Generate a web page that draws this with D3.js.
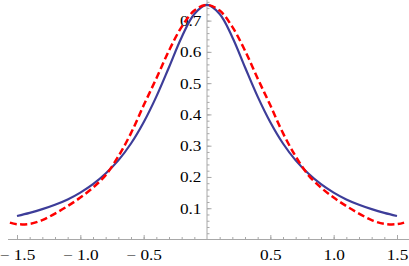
<!DOCTYPE html>
<html>
<head>
<meta charset="utf-8">
<script src="https://cdn.jsdelivr.net/npm/d3@7"></script>
<style>
  html, body { margin: 0; padding: 0; background: #fff; }
  svg { display: block; }
</style>
</head>
<body>
<svg id="chart"></svg>
<script>
// values
let blueX = [-1.5,-1.4,-1.3,-1.2,-1.1,-1.0,-0.9,-0.8,-0.7,-0.6,-0.5,-0.4,-0.3,-0.2,-0.1,0,
             0.1,0.2,0.3,0.4,0.5,0.6,0.7,0.8,0.9,1.0,1.1,1.2,1.3,1.4,1.5];
let blueY = [0.075,0.085,0.097,0.111,0.128,0.150,0.177,0.211,0.253,0.307,0.375,0.457,0.551,0.647,0.721,0.750,
             0.721,0.647,0.551,0.457,0.375,0.307,0.253,0.211,0.177,0.150,0.128,0.111,0.097,0.085,0.075];

let redX = [-1.556,-1.5,-1.4,-1.3,-1.2,-1.1,-1.0,-0.9,-0.8,-0.7,-0.6,-0.5,-0.4,-0.3,-0.2,-0.1,0,
            0.1,0.2,0.3,0.4,0.5,0.6,0.7,0.8,0.9,1.0,1.1,1.2,1.3,1.4,1.5,1.556];
let redY = [0.054,0.049,0.050,0.062,0.083,0.107,0.134,0.166,0.206,0.266,0.340,0.429,0.515,0.604,0.680,0.732,0.750,
            0.732,0.680,0.604,0.515,0.429,0.340,0.266,0.206,0.166,0.134,0.107,0.083,0.062,0.050,0.049,0.054];

let xMajor = [-1.5,-1.0,-0.5,0.5,1.0,1.5];
let xLabels = ["\u2212 1.5","\u2212 1.0","\u2212 0.5","0.5","1.0","1.5"];
let xMinor = [-1.5,-1.4,-1.3,-1.2,-1.1,-1.0,-0.9,-0.8,-0.7,-0.6,-0.5,-0.4,-0.3,-0.2,-0.1,
              0.1,0.2,0.3,0.4,0.5,0.6,0.7,0.8,0.9,1.0,1.1,1.2,1.3,1.4,1.5];
let yMajor = [0.1,0.2,0.3,0.4,0.5,0.6,0.7];
let yLabels = ["0.1","0.2","0.3","0.4","0.5","0.6","0.7"];
let yMinor = [0.02,0.04,0.06,0.08,0.10,0.12,0.14,0.16,0.18,0.20,0.22,0.24,0.26,0.28,0.30,0.32,0.34,0.36,
              0.38,0.40,0.42,0.44,0.46,0.48,0.50,0.52,0.54,0.56,0.58,0.60,0.62,0.64,0.66,0.68,0.70,0.72,0.74,0.76];

let width = 409, height = 266;
let axisColor = "#a8a8a8";
let labelFont = "'Liberation Serif', 'Times New Roman', Times, serif";

let svg = d3.select("#chart").attr("width", width).attr("height", height);

let x = d3.scaleLinear().domain([-1.5, 1.5]).range([17, 397]);
let y = d3.scaleLinear().domain([0, 0.7]).range([239.5, 20.6]);

// axis lines
svg.append("line")
    .attr("x1", 8).attr("x2", width)
    .attr("y1", y(0)).attr("y2", y(0))
    .attr("stroke", axisColor).attr("stroke-width", 1);
svg.append("line")
    .attr("x1", x(0)).attr("x2", x(0))
    .attr("y1", 0).attr("y2", y(0))
    .attr("stroke", axisColor).attr("stroke-width", 1);

// x ticks (pointing up into the plot)
let xMinorAxis = d3.axisBottom(x).tickValues(xMinor).tickSize(-2.5).tickFormat("");
let xMajorAxis = d3.axisBottom(x).tickValues(xMajor).tickSizeInner(-4.5).tickSizeOuter(0)
    .tickPadding(13).tickFormat((d, i) => xLabels[i]);

let gxm = svg.append("g").attr("transform", "translate(0," + y(0) + ")").call(xMinorAxis);
let gx = svg.append("g").attr("transform", "translate(0," + y(0) + ")").call(xMajorAxis);

// y ticks (pointing right)
let yMinorAxis = d3.axisLeft(y).tickValues(yMinor).tickSize(-2.5).tickFormat("");
let yMajorAxis = d3.axisLeft(y).tickValues(yMajor).tickSizeInner(-4.5).tickSizeOuter(0)
    .tickPadding(5).tickFormat((d, i) => yLabels[i]);

let gym = svg.append("g").attr("transform", "translate(" + x(0) + ",0)").call(yMinorAxis);
let gy = svg.append("g").attr("transform", "translate(" + x(0) + ",0)").call(yMajorAxis);

[gxm, gx, gym, gy].forEach(g => {
    g.select(".domain").remove();
    g.selectAll(".tick line").attr("stroke", axisColor).attr("stroke-width", 1);
});

// the reference text is a bit wider than plain Times, so stretch it sideways
gx.selectAll(".tick text")
    .attr("font-family", labelFont)
    .attr("font-size", 15)
    .attr("fill", "#000")
    .attr("x", 0)
    .attr("y", 0)
    .attr("dy", 0)
    .attr("text-anchor", "middle")
    .attr("transform", "translate(0,20.5) scale(1.15,1)");

gy.selectAll(".tick text")
    .attr("font-family", labelFont)
    .attr("font-size", 15)
    .attr("fill", "#000")
    .attr("x", 0)
    .attr("dy", "0.33em")
    .attr("text-anchor", "end")
    .attr("transform", "translate(-5.5,0) scale(1.15,1)");

// curves
let line = d3.line()
    .x(d => x(d[0]))
    .y(d => y(d[1]))
    .curve(d3.curveCatmullRom.alpha(0.5));

svg.append("path")
    .datum(d3.zip(blueX, blueY))
    .attr("d", line)
    .attr("fill", "none")
    .attr("stroke", "#3d3d99")
    .attr("stroke-width", 2.2);

svg.append("path")
    .datum(d3.zip(redX, redY))
    .attr("d", line)
    .attr("fill", "none")
    .attr("stroke", "#ff0000")
    .attr("stroke-width", 2.5)
    .attr("stroke-dasharray", "7,3.5");
</script>
</body>
</html>
